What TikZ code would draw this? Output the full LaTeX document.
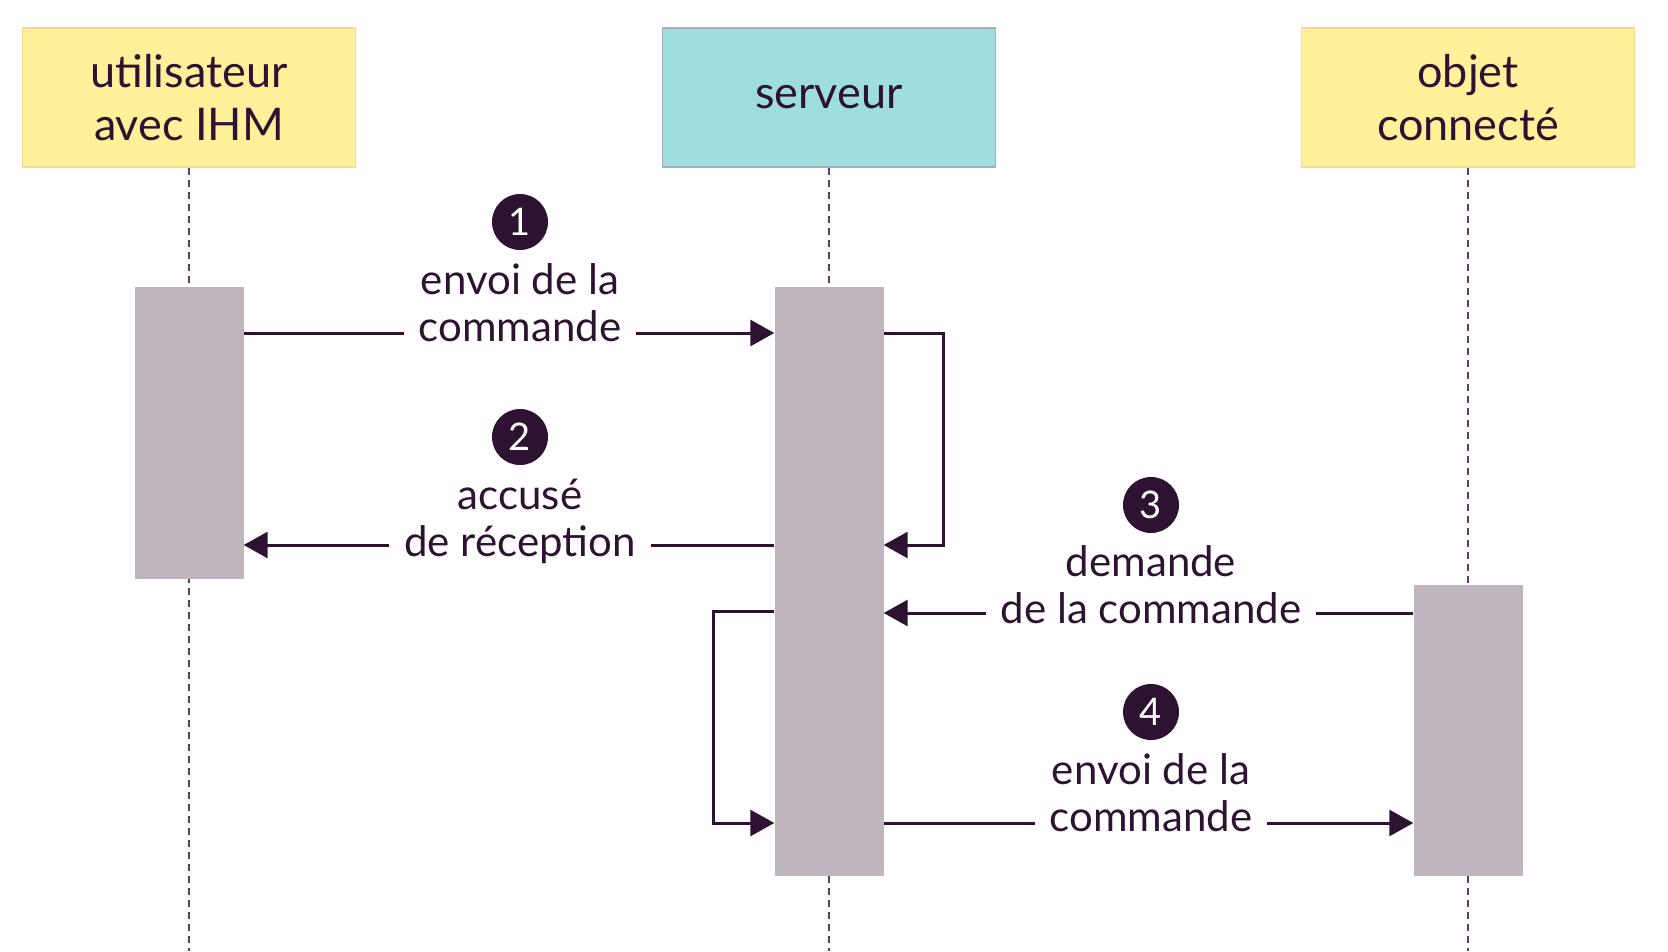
\documentclass[tikz,border=0pt]{standalone}
\usepackage{fontspec}
\setmainfont{Lato}
\usetikzlibrary{arrows.meta}
\definecolor{ink}{HTML}{2E1232}
\definecolor{jaune}{HTML}{FFF09A}
\definecolor{jauneb}{HTML}{FAD890}
\definecolor{cyan2}{HTML}{9EDEE0}
\definecolor{cyanb}{HTML}{A3B0BE}
\definecolor{barre}{HTML}{C0B6BF}

\begin{document}
\begin{tikzpicture}[x=1pt, y=-1pt,
    actor/.style={draw, line width=1.5pt, minimum width=333pt, minimum height=139pt,
      align=center, text=ink, font=\fontsize{45}{53}\selectfont},
    life/.style={draw=ink!80, line width=1.4pt, dash pattern=on 7pt off 5pt},
    bar/.style={fill=barre, minimum width=109pt, inner sep=0pt},
    msg/.style={draw=ink, line width=3pt, -{Triangle[length=24pt,width=26pt]}},
    lbl/.style={fill=white, align=center, text=ink, inner sep=15pt, font=\fontsize{42}{47}\selectfont},
    num/.style={circle, fill=ink, text=white, minimum size=56pt, inner sep=0pt, font=\fontsize{38}{40}\selectfont}]
  \useasboundingbox (0,0) rectangle (1668,951);

  % acteurs
  \node[actor, fill=jaune, draw=jauneb] (user) at (189,97.5) {utilisateur\\avec IHM};
  \node[actor, fill=cyan2, draw=cyanb] (serv) at (829,97.5) {serveur};
  \node[actor, fill=jaune, draw=jauneb] (obj) at (1468,97.5) {objet\\connecté};

  % lignes de vie
  \draw[life] (user.south) -- (user.south |- 0,951);
  \draw[life] (serv.south) -- (serv.south |- 0,951);
  \draw[life, line width=2pt] (obj.south) -- (obj.south |- 0,951);

  % activations
  \node[bar, minimum height=292pt, anchor=north] (barU) at (189,287) {};
  \node[bar, minimum height=589pt, anchor=north] (barS) at (829,287) {};
  \node[bar, minimum height=291pt, anchor=north] (barO) at (1468,585) {};

  \coordinate (m1) at (0,333);
  \coordinate (m2) at (0,545);
  \coordinate (m3) at (0,613);
  \coordinate (m4) at (0,611);
  \coordinate (m5) at (0,823);

  % messages
  \draw[msg] (barU.east |- m1) -- (barS.west |- m1);
  \draw[msg] (barS.east |- m1) -| (943,0 |- m2) -- (barS.east |- m2);
  \draw[msg] (barS.west |- m2) -- (barU.east |- m2);
  \draw[msg] (barO.west |- m3) -- (barS.east |- m3);
  \draw[msg] (barS.west |- m4) -| (713,0 |- m5) -- (barS.west |- m5);
  \draw[msg] (barS.east |- m5) -- (barO.west |- m5);

  \node[lbl] (l1) at (520,303) {envoi de la\\commande};
  \node[lbl] (l2) at (520,521) {accusé\\de réception};
  \node[lbl] (l3) at (1151,585) {demande\\de la commande};
  \node[lbl] (l4) at (1151,793) {envoi de la\\commande};

  \node[num] (n1) at (520,222) {1};
  \node[num] (n2) at (520,437) {2};
  \node[num] (n3) at (1151,505) {3};
  \node[num] (n4) at (1151,712) {4};
\end{tikzpicture}
\end{document}
